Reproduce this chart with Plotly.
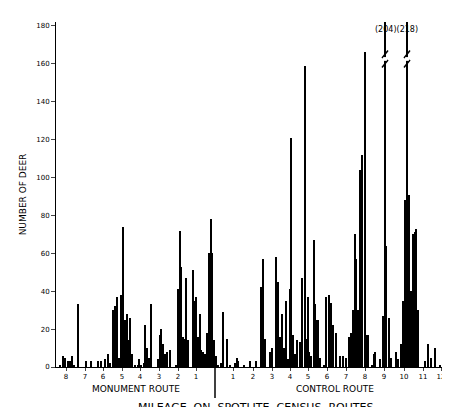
import plotly.graph_objects as go

# Bar positions along the census routes (chart units) and deer counts
pos = [52,55,57,60,62,64,66,70,78,83,90,93,97,100,102,105,107,109,111,113,115,117,119,120,122,124,127,130,131,133,
       136,137,139,141,143,150,152,153,155,157,159,162,168,170,172,173,175,177,178,180,185,187,188,190,192,193,195,197,199,201,203,204,206,208,
       210,213,215,219,222,227,229,230,236,242,248,253,255,257,262,264,268,270,272,274,276,278,280,282,283,285,287,
       289,292,294,297,298,300,301,303,306,307,309,310,312,316,318,321,323,325,328,332,335,
       338,341,343,345,347,348,350,352,354,357,358,360,364,366,367,372,375,377,378,381,383,
       388,390,393,395,397,399,401,403,405,407,408,410,417,420,423,427,432,436,441,443,446]
deer = [1,6,5,3,3,6,1,33,3,3,3,3,4,7,2,30,32,37,5,38,74,25,28,14,26,7,1,1,4,1,
        2,22,10,5,33,4,17,20,12,7,8,9,1,41,72,53,16,15,47,14,51,35,37,16,28,9,8,7,18,60,78,60,14,6,
        1,2,29,15,1,2,5,3,1,3,3,42,57,15,8,10,58,45,16,28,10,35,4,41,121,17,7,
        14,13,47,159,15,37,8,6,67,33,25,25,5,1,37,38,34,22,18,6,6,
        5,16,18,30,70,57,30,104,112,166,17,17,1,7,8,4,27,204,64,26,5,
        8,4,12,35,88,218,91,40,70,71,73,30,3,12,5,10,1,1,8,21,21]

mile_pos = [58,77,95,114,132,151,170,188,225,245,264,282,300,319,338,357,376,396,415,433]
mile_lbl = ["8","7","6","5","4","3","2","1","1","2","3","4","5","6","7","8","9","10","11","12"]
y_ticks = [0,20,40,60,80,100,120,140,160,180]

fig = go.Figure(go.Bar(x=pos, y=deer, width=1.7, marker=dict(color="black", line=dict(width=0))))

shapes = []
for xd in [207, 447]:
    shapes.append(dict(type="line", xref="x", yref="paper", x0=xd, x1=xd, y0=-0.09, y1=0,
                       line=dict(color="black", width=1.5)))
# axis-break marks on the two off-scale bars
for xb in [377, 399]:
    for yb in [160, 165]:
        shapes.append(dict(type="line", xref="x", yref="y", x0=xb-3, x1=xb+3, y0=yb-2, y1=yb+2,
                           line=dict(color="black", width=1.5)))
    shapes.append(dict(type="rect", xref="x", yref="y", x0=xb-1.5, x1=xb+1.5, y0=161.5, y1=163.5,
                       fillcolor="white", line=dict(width=0)))

font = dict(family="DejaVu Sans", color="black", size=9)
fig.update_layout(
    width=450, height=407, margin=dict(l=48, r=3, t=14, b=48),
    paper_bgcolor="white", plot_bgcolor="white", showlegend=False, bargap=0,
    font=font, shapes=shapes,
    xaxis=dict(range=[48, 447], tickmode="array", tickvals=mile_pos, ticktext=mile_lbl,
               ticks="outside", ticklen=3, showline=True, linecolor="black", showgrid=False,
               zeroline=False, tickfont=dict(size=7)),
    yaxis=dict(range=[0, 182], tickmode="array", tickvals=y_ticks, ticks="outside", ticklen=4,
               showline=True, linecolor="black", showgrid=False, zeroline=False,
               tickfont=dict(size=7),
               title=dict(text="NUMBER OF DEER", font=dict(size=9), standoff=8)),
    annotations=[
        dict(text="MONUMENT ROUTE", x=128, y=0, yshift=-22, xref="x", yref="paper", showarrow=False,
             yanchor="middle", font=dict(size=9)),
        dict(text="CONTROL ROUTE", x=327, y=0, yshift=-22, xref="x", yref="paper", showarrow=False,
             yanchor="middle", font=dict(size=9)),
        dict(text="MILEAGE  ON  SPOTLITE  CENSUS  ROUTES", x=0.5, y=0, yshift=-40, xref="paper", yref="paper",
             showarrow=False, yanchor="middle", font=dict(size=11)),
        dict(text="(204)(218)", x=388, y=178, xref="x", yref="y", showarrow=False, font=dict(size=8)),
    ],
)
fig.write_html("out.html")
